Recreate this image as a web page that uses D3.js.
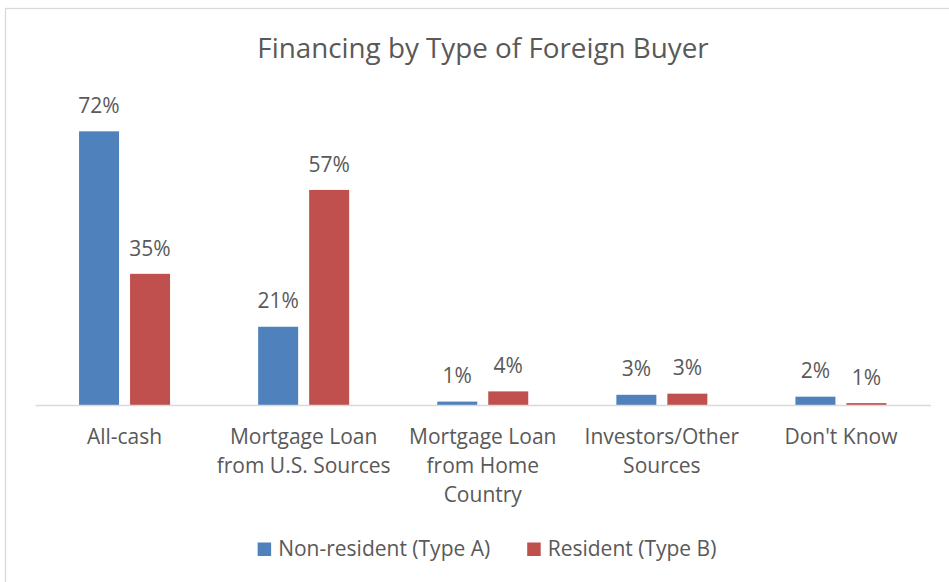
<!DOCTYPE html>
<html>
<head>
<meta charset="utf-8">
<script src="https://cdn.jsdelivr.net/npm/d3@7"></script>
<style>
  html, body { margin: 0; padding: 0; background: #fff; }
  svg { display: block; }
  text { font-family: "Open Sans", Lato, sans-serif; fill: #595959; }
</style>
</head>
<body>
<svg id="chart" width="949" height="582"></svg>
<script>
// ---- data ----
const title = "Financing by Type of Foreign Buyer";
const categories = [
  "All-cash",
  "Mortgage Loan\nfrom U.S. Sources",
  "Mortgage Loan\nfrom Home\nCountry",
  "Investors/Other\nSources",
  "Don't Know"
];
const seriesNames = ["Non-resident (Type A)", "Resident (Type B)"];
const nonResident = [72.4, 20.7, 0.9, 2.7, 2.2];
const resident = [34.7, 56.9, 3.6, 3.0, 0.5];
const seriesColors = ["#4F81BD", "#C0504D"];

// ---- layout ----
const svg = d3.select("#chart");
const W = 949, H = 582;
const plot = { left: 35, right: 930.5, top: 102.6, bottom: 405 };
const fs = "21px";

svg.append("rect")
  .attr("x", 5.5).attr("y", 8.5)
  .attr("width", W + 10).attr("height", H + 10)
  .attr("fill", "#fff").attr("stroke", "#D9D9D9").attr("stroke-width", 1.3);

svg.append("text")
  .attr("x", 483).attr("y", 57.5)
  .attr("text-anchor", "middle")
  .style("font-size", "27.8px")
  .text(title);

const x0 = d3.scaleBand().domain(categories).range([plot.left, plot.right]).padding(0);
const innerPad = (x0.bandwidth() - 91) / 2;
const x1 = d3.scaleBand().domain(seriesNames)
  .range([innerPad, x0.bandwidth() - innerPad])
  .paddingInner(11 / 51).paddingOuter(0);
const y = d3.scaleLinear().domain([0, 80]).range([plot.bottom, plot.top]);

const rows = categories.map((c, i) => ({
  cat: c,
  vals: [
    { s: seriesNames[0], v: nonResident[i], color: seriesColors[0] },
    { s: seriesNames[1], v: resident[i], color: seriesColors[1] }
  ]
}));

const groups = svg.append("g").selectAll("g").data(rows).join("g")
  .attr("transform", d => `translate(${x0(d.cat)},0)`);

groups.selectAll("rect").data(d => d.vals).join("rect")
  .attr("x", d => x1(d.s))
  .attr("width", x1.bandwidth())
  .attr("y", d => y(d.v))
  .attr("height", d => y(0) - y(d.v))
  .attr("fill", d => d.color);

groups.selectAll("text.lbl").data(d => d.vals).join("text")
  .attr("class", "lbl")
  .attr("x", d => x1(d.s) + x1.bandwidth() / 2)
  .attr("y", d => y(d.v) - 18.3)
  .attr("text-anchor", "middle")
  .style("font-size", fs)
  .text(d => Math.round(d.v) + "%");

// x axis
const xAxis = svg.append("g")
  .attr("transform", `translate(0,${plot.bottom})`)
  .call(d3.axisBottom(x0).tickSize(0).tickFormat(""));
xAxis.select(".domain").attr("stroke", "#D9D9D9").attr("stroke-width", 1.5);
xAxis.selectAll(".tick").each(function(d) {
  const t = d3.select(this).append("text")
    .attr("text-anchor", "middle")
    .attr("y", 38.5)
    .style("font-size", fs)
    .attr("fill", "#595959");
  d.split("\n").forEach((line, i) => {
    t.append("tspan").attr("x", 0).attr("dy", i === 0 ? 0 : 29).text(line);
  });
});

// legend
const legend = svg.append("g");
const items = legend.selectAll("g").data(seriesNames).join("g");
items.append("rect")
  .attr("width", 13.5).attr("height", 13.5)
  .attr("y", 542.5)
  .attr("fill", (d, i) => seriesColors[i]);
items.append("text")
  .attr("x", 20.5).attr("y", 555.5)
  .style("font-size", fs)
  .text(d => d);
const widths = [];
items.each(function() {
  widths.push(this.querySelector("text").getComputedTextLength() + 20.5);
});
const totalW = widths[0] + 37 + widths[1];
const xpos = 487 - totalW / 2;
items.attr("transform", (d, i) => {
  const tx = i === 0 ? xpos : xpos + widths[0] + 37;
  return `translate(${tx},0)`;
});
</script>
</body>
</html>
